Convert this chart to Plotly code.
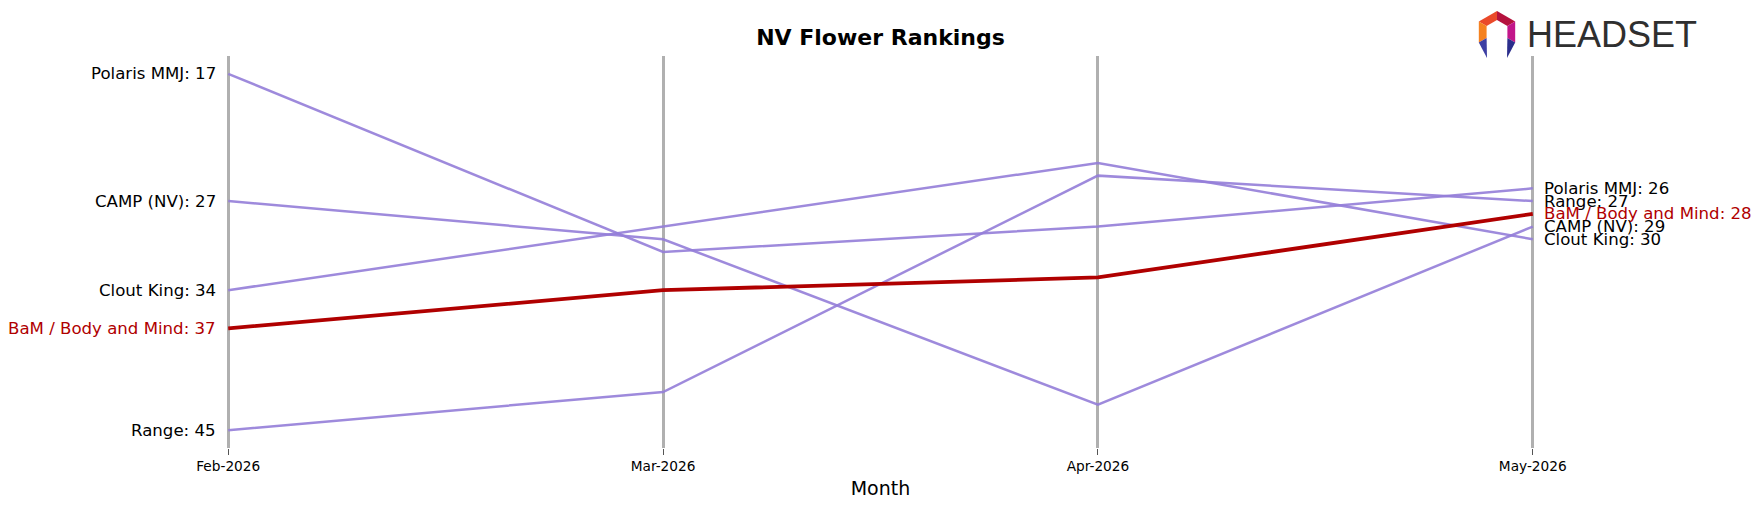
import plotly.graph_objects as go
import math

months = ["Feb-2026", "Mar-2026", "Apr-2026", "May-2026"]
brands = ["Polaris MMJ", "CAMP (NV)", "Clout King", "Range", "BaM / Body and Mind"]
polaris = [17, 31, 29, 26]
camp = [27, 30, 43, 29]
clout = [34, 29, 24, 30]
range_ = [45, 42, 25, 27]
bam = [37, 34, 33, 28]
series = [polaris, camp, clout, range_, bam]
highlight = "BaM / Body and Mind"

W, H = 1761, 507
L, R, T, B = 163, 1598, 56, 448

PURPLE = "rgba(147,125,216,0.9)"
RED = "#b00000"

fig = go.Figure()
xs = list(range(len(months)))
for name, vals in zip(brands, series):
    hl = name == highlight
    fig.add_trace(go.Scatter(
        x=xs, y=vals, mode="lines", name=name,
        line=dict(color=RED if hl else PURPLE, width=3.8 if hl else 2.5),
        showlegend=False, hoverinfo="skip"))

annos = []
for name, vals in zip(brands, series):
    hl = name == highlight
    col = RED if hl else "#000000"
    annos.append(dict(x=xs[0], y=vals[0], xref="x", yref="y", text=f"{name}: {vals[0]}",
                      xanchor="right", yanchor="middle", xshift=-10, showarrow=False,
                      font=dict(family="DejaVu Sans", size=16.6, color=col)))
    annos.append(dict(x=xs[-1], y=vals[-1], xref="x", yref="y", text=f"{name}: {vals[-1]}",
                      xanchor="left", yanchor="middle", xshift=9, showarrow=False,
                      font=dict(family="DejaVu Sans", size=16.6, color=col)))

def px(xp):
    return (xp - L) / (R - L)

def py(yp):
    return (B - yp) / (B - T)

annos.append(dict(x=px(1525), y=py(34), xref="paper", yref="paper", text="HEADSET",
                  xanchor="left", yanchor="middle", showarrow=False,
                  font=dict(family="Liberation Sans", size=36, color="#2f2f2f")))

cx, cy, ro, ri = 1497, 32, 21, 12
def vert(ang, r):
    a = math.radians(ang)
    return (cx + r * math.cos(a), cy - r * math.sin(a))

def path(points):
    return "M " + " L ".join(f"{px(x):.5f},{py(y):.5f}" for x, y in points) + " Z"

shapes = []
segs = [(150, 90, "#ea4a2a"), (90, 30, "#b5123e"), (210, 150, "#f58220"), (30, -30, "#c2168a")]
for a1, a2, c in segs:
    pts = [vert(a1, ro), vert(a2, ro), vert(a2, ri), vert(a1, ri)]
    shapes.append(dict(type="path", path=path(pts), xref="paper", yref="paper",
                       fillcolor=c, line=dict(width=0), layer="above"))
for a, c, sgn in [(210, "#3d3fa3", 1), (-30, "#2b2e8c", -1)]:
    p1 = vert(a, ro)
    p2 = vert(a, ri)
    tip = (cx - sgn * 10, 58)
    shapes.append(dict(type="path", path=path([p1, p2, tip]), xref="paper", yref="paper",
                       fillcolor=c, line=dict(width=0), layer="above"))

fig.update_layout(
    width=W, height=H,
    margin=dict(l=L, r=W - R, t=T, b=H - B),
    paper_bgcolor="white", plot_bgcolor="white",
    title=dict(text="<b>NV Flower Rankings</b>", x=0.5, xref="paper", xanchor="center",
               y=1 - 37 / H, yanchor="middle",
               font=dict(family="DejaVu Sans", size=22, color="black")),
    xaxis=dict(range=[-0.15, 3.15], tickvals=xs, ticktext=months,
               showgrid=True, gridcolor="#b0b0b0", gridwidth=2.5,
               zeroline=False, showline=False,
               ticks="outside", ticklen=6, tickwidth=1, tickcolor="#555555",
               tickfont=dict(family="DejaVu Sans", size=13.7, color="black"),
               title=dict(text="Month", font=dict(family="DejaVu Sans", size=19, color="black"), standoff=8)),
    yaxis=dict(range=[46.4, 15.6], showgrid=False, zeroline=False, showticklabels=False,
               showline=False),
    annotations=annos,
    shapes=shapes,
)

fig.write_html("out.html")
